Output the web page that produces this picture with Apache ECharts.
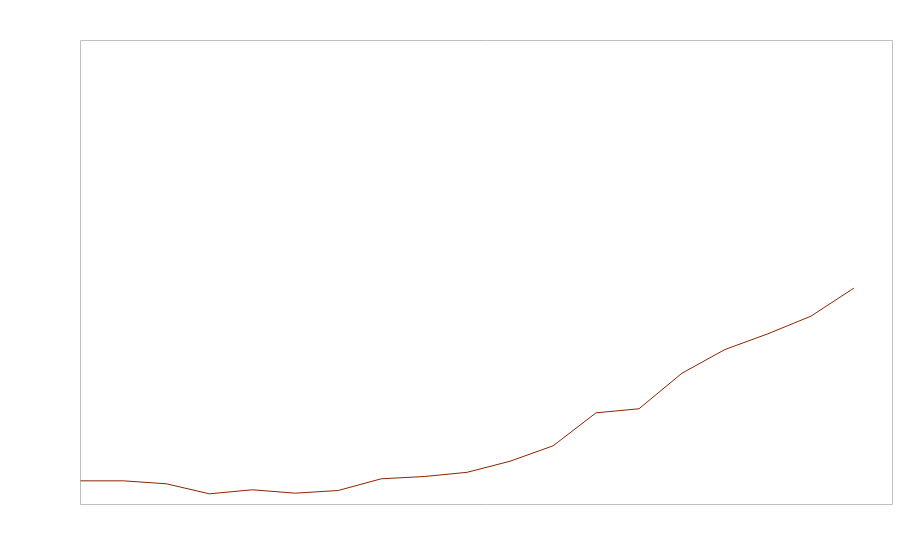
<!DOCTYPE html>
<html>
<head>
<meta charset="utf-8">
<script src="https://cdn.jsdelivr.net/npm/echarts@6/dist/echarts.min.js"></script>
<style>html,body{margin:0;padding:0;background:#fff;}#c{width:900px;height:560px;}</style>
</head>
<body>
<div id="c"></div>
<script>
var years = [2000,2001,2002,2003,2004,2005,2006,2007,2008,2009,2010,2011,2012,2013,2014,2015,2016,2017,2018];
var values = [5.1,5.1,4.46,2.3,3.17,2.44,3.02,5.54,6.03,6.94,9.33,12.65,19.76,20.63,28.3,33.4,36.79,40.58,46.62];

var chart = echarts.init(document.getElementById('c'), null, {renderer:'canvas'});
chart.setOption({
  animation: false,
  backgroundColor: '#ffffff',
  grid: {left: 80.5, top: 40.5, width: 812, height: 464, show: true, borderColor: '#c0c0c0', borderWidth: 1, backgroundColor: 'transparent'},
  xAxis: {type: 'value', min: 2000, max: 2018.9, show: false},
  yAxis: {type: 'value', min: 0, max: 100, show: false},
  series: [{
    type: 'line',
    data: years.map(function(y,i){return [y, values[i]];}),
    showSymbol: false,
    lineStyle: {color: '#8B2500', width: 1},
    itemStyle: {color: '#8B2500'}
  }]
});
</script>
</body>
</html>
